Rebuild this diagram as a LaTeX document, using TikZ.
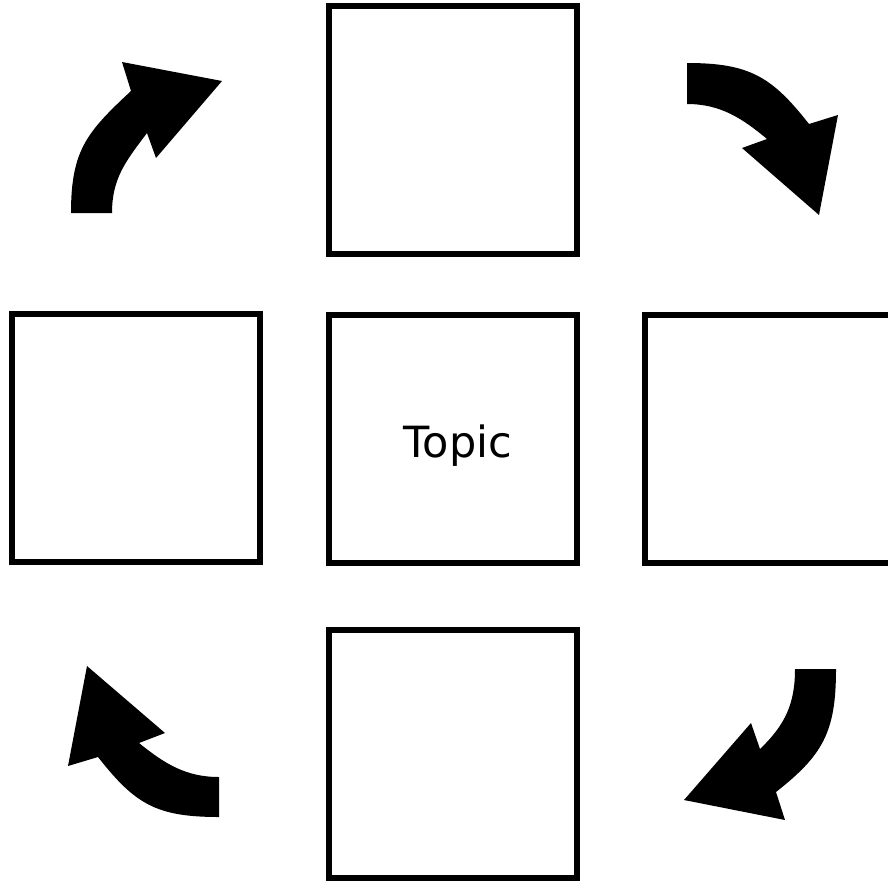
\documentclass[tikz,border=0pt]{standalone}
\usepackage{fontspec}
\setmainfont{DejaVu Sans}
\usepackage{tikz}

\begin{document}
\begin{tikzpicture}[x=1pt, y=-1pt,
  cyclebox/.style={draw, line width=6pt, minimum width=248pt, minimum height=248pt, inner sep=0pt},
  cyclearrow/.style={fill=black, draw=none}]
\useasboundingbox (0,0) rectangle (888,881);
\clip (0,0) rectangle (888,881);

  \node [cyclebox] (top)    at (453,130) {};
  \node [cyclebox] (left)   at (135.5,438) {};
  \node [cyclebox] (center) at (453,439) {};
  \node [cyclebox] (right)  at (769,439) {};
  \node [cyclebox] (bottom) at (453,754) {};

  \node [anchor=base, font=\fontsize{43}{50}\selectfont] (topic) at (458,457) {Topic};

  % curved arrows, clockwise
  \fill [cyclearrow] (71,213) .. controls (71,150) and (87,132) .. (131,91)
    -- (122,62) -- (222,81) -- (156,158) -- (147,133)
    .. controls (126,161) and (112,178) .. (112,213) -- cycle;
  \fill [cyclearrow] (687,63) .. controls (750,63) and (772,77) .. (809,124)
    -- (838,115) -- (819,215) -- (742,148) -- (767,139)
    .. controls (742,118) and (720,104) .. (687,104) -- cycle;
  \fill [cyclearrow] (836,669) .. controls (836,732) and (823,755) .. (776,792)
    -- (785,820) -- (684,800) -- (751,723) -- (760,749)
    .. controls (785,725) and (795,704) .. (795,669) -- cycle;
  \fill [cyclearrow] (219,817) .. controls (156,817) and (135,804) .. (98,757)
    -- (68,766) -- (87,666) -- (165,733) -- (139,743)
    .. controls (165,764) and (186,777) .. (219,777) -- cycle;
\end{tikzpicture}
\end{document}
